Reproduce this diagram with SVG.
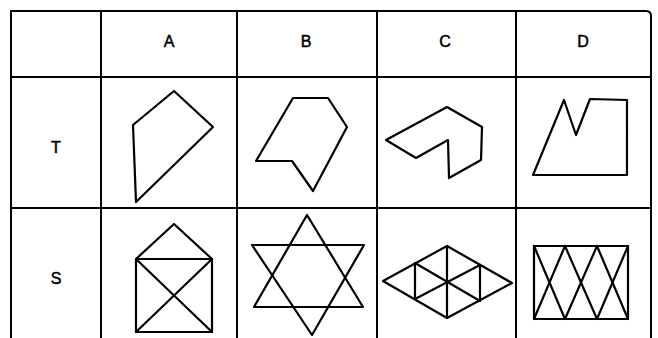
<svg xmlns="http://www.w3.org/2000/svg" width="658" height="338" viewBox="0 0 658 338">
<style>
.grid{stroke:#000;stroke-width:2;fill:none}
.shape{stroke:#000;stroke-width:2.2;fill:none;stroke-linejoin:round;stroke-linecap:round}
.lbl{font-family:"Liberation Sans",Arial,sans-serif;font-size:16px;fill:#000;stroke:#000;stroke-width:0.5;text-anchor:middle;dominant-baseline:central}
</style>
<rect width="658" height="338" fill="#fff"/>
<g id="table" class="grid">
<path d="M11,338 V11 H646 Q651,11 651,16 V338"/>
<line x1="101" y1="11" x2="101" y2="338"/>
<line x1="237" y1="11" x2="237" y2="338"/>
<line x1="377" y1="11" x2="377" y2="338"/>
<line x1="516" y1="11" x2="516" y2="338"/>
<line x1="11" y1="77" x2="651" y2="77"/>
<line x1="11" y1="208" x2="651" y2="208"/>
</g>
<g id="labels">
<text class="lbl" x="169" y="41">A</text>
<text class="lbl" x="306" y="41">B</text>
<text class="lbl" x="445" y="41">C</text>
<text class="lbl" x="583" y="41">D</text>
<text class="lbl" x="56" y="147">T</text>
<text class="lbl" x="56" y="278">S</text>
</g>
<g id="TA"><polygon class="shape" points="174,91 213,127 136,202 133,125"/></g>
<g id="TB"><polygon class="shape" points="293,98 328,98 347,127 313,191 292,161 256,161"/></g>
<g id="TC"><polygon class="shape" points="386,140 447,107 482,127 481,160 449,178 448,140 416,158"/></g>
<g id="TD"><polygon class="shape" points="533,175 564,100 576,135 590,99 627,100 627,175"/></g>
<g id="SA" class="shape">
<polyline points="136,259 174,224 212,259"/>
<rect x="136" y="259" width="76" height="73"/>
<line x1="136" y1="259" x2="212" y2="332"/>
<line x1="212" y1="259" x2="136" y2="332"/>
</g>
<g id="SB" class="shape">
<polygon points="307,215 363,307 254,307"/>
<polygon points="252,245 364,245 312,335"/>
</g>
<g id="SC" class="shape">
<polygon points="383,281 447,246 512,283 447,318"/>
<line x1="447" y1="246" x2="447" y2="318"/>
<line x1="415" y1="263" x2="415" y2="299"/>
<line x1="480" y1="265" x2="480" y2="301"/>
<line x1="415" y1="263" x2="480" y2="301"/>
<line x1="415" y1="299" x2="480" y2="265"/>
</g>
<g id="SD" class="shape">
<rect x="534" y="246" width="94" height="73"/>
<polyline points="534,246 565,319 597,246 628,319"/>
<polyline points="534,319 565,246 597,319 628,246"/>
</g>
</svg>
